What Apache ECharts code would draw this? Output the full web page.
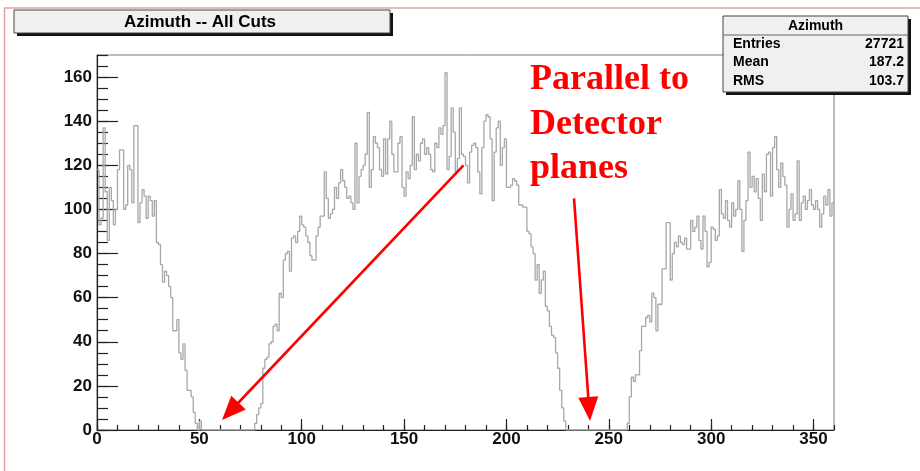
<!DOCTYPE html>
<html>
<head>
<meta charset="utf-8">
<script src="https://cdn.jsdelivr.net/npm/echarts@6/dist/echarts.min.js"></script>
<style>
  html, body { margin: 0; padding: 0; background: #ffffff; }
  #chart { width: 920px; height: 471px; }
</style>
</head>
<body>
<div id="chart"></div>
<script>
// Histogram: azimuth angle (degrees), 1-degree bins from 0 to 360
const histTitle = 'Azimuth -- All Cuts';
const binStart = 0;
const binWidth = 1;

// bin contents, 0..49
const countsFirstLobe = [
  118, 93, 96, 137, 108, 86, 110, 104, 93, 100,
  118, 127, 127, 100, 102, 120, 118, 103, 138, 138,
  94, 103, 109, 106, 96, 106, 104, 97, 104, 85,
  84, 75, 67, 72, 70, 65, 60, 45, 45, 50,
  35, 32, 39, 27, 18, 18, 15, 8, 3, 0
];
// 50..76
const countsFirstGap = [
  4, 0, 0, 0, 0, 0, 0, 0, 0, 0,
  0, 0, 0, 0, 0, 0, 0, 0, 0, 0,
  0, 0, 0, 0, 0, 0, 0
];
// 77..135
const countsRise = [
  3, 7, 10, 12, 28, 32, 33, 39, 40, 47,
  48, 45, 62, 60, 77, 80, 81, 72, 87, 88,
  85, 90, 97, 93, 92, 88, 85, 79, 77, 77,
  88, 92, 97, 97, 117, 105, 96, 98, 100, 110,
  105, 112, 118, 113, 110, 105, 106, 103, 100, 130,
  103, 115, 118, 120, 125, 144, 110, 118, 133
];
// 136..196
const countsPlateau = [
  130, 128, 118, 115, 132, 116, 132, 140, 125, 117,
  117, 130, 133, 110, 106, 117, 114, 120, 142, 118,
  125, 122, 130, 132, 125, 128, 125, 118, 117, 130,
  128, 137, 134, 138, 162, 118, 124, 146, 135, 117,
  123, 146, 125, 124, 120, 112, 126, 129, 130, 128,
  117, 107, 128, 140, 143, 142, 132, 104, 126, 137, 140
];
// 197..229
const countsFall = [
  120, 128, 132, 110, 110, 111, 114, 113, 111, 102,
  102, 101, 101, 90, 89, 83, 80, 68, 75, 62,
  68, 72, 56, 54, 47, 43, 42, 35, 28, 18,
  10, 4, 0
];
// 230..257
const countsSecondGap = [
  0, 0, 0, 0, 0, 0, 0, 0, 0, 0,
  0, 0, 0, 0, 0, 0, 0, 0, 0, 0,
  0, 0, 0, 0, 0, 0, 0, 0
];
// 258..359
const countsLastLobe = [
  0, 3, 15, 24, 22, 25, 25, 36, 47, 47,
  51, 52, 49, 62, 60, 45, 57, 57, 73, 73,
  94, 94, 68, 80, 85, 83, 88, 85, 84, 87,
  82, 82, 95, 90, 92, 97, 86, 82, 97, 90,
  74, 76, 92, 91, 86, 88, 109, 98, 96, 104,
  95, 92, 103, 97, 100, 113, 100, 81, 95, 104,
  126, 110, 115, 108, 114, 105, 95, 116, 108, 125,
  126, 106, 128, 133, 118, 110, 121, 115, 111, 92,
  100, 107, 95, 98, 122, 95, 103, 106, 100, 104,
  109, 102, 100, 104, 100, 92, 98, 106, 102, 109,
  97, 103
];

const statsName = 'Azimuth';
const statsLabels = ['Entries', 'Mean', 'RMS'];
const statsValues = ['27721', '187.2', '103.7'];

const noteLines = ['Parallel to', 'Detector', 'planes'];
// annotation arrows in data coordinates: [start, end]
const arrowPaths = [
  [[179, 120], [65.1, 8.5]],
  [[233, 105], [240.4, 9.5]]
];

const counts = [].concat(countsFirstLobe, countsFirstGap, countsRise,
  countsPlateau, countsFall, countsSecondGap, countsLastLobe);

// step outline: each point holds the bin content until the next bin edge
const stepPoints = counts.map((v, i) => [binStart + i * binWidth, v]);
stepPoints.push([binStart + counts.length * binWidth, counts[counts.length - 1]]);

const labelFont = { fontFamily: 'Liberation Sans', fontWeight: 'bold', fontSize: 17, color: '#111' };
const axisColor = '#222';

const chart = echarts.init(document.getElementById('chart'), null, { renderer: 'canvas' });

chart.setOption({
  animation: false,
  backgroundColor: '#ffffff',
  grid: {
    left: 97, right: 86, top: 55, bottom: 41,
    show: true, borderColor: '#777', borderWidth: 1, backgroundColor: 'transparent'
  },
  xAxis: [
    {
      type: 'value', min: 0, max: 360, interval: 50,
      axisLine: { show: true, onZero: false, lineStyle: { color: axisColor, width: 1.2 } },
      axisTick: { show: true, inside: true, length: 11, lineStyle: { color: axisColor, width: 1.2 } },
      axisLabel: Object.assign({ margin: 1, showMaxLabel: false }, labelFont),
      splitLine: { show: false }
    },
    {
      type: 'value', min: 0, max: 360, interval: 10, position: 'bottom',
      axisLine: { show: false },
      axisTick: { show: true, inside: true, length: 5, lineStyle: { color: axisColor, width: 1.2 } },
      axisLabel: { show: false },
      splitLine: { show: false }
    }
  ],
  yAxis: [
    {
      type: 'value', min: 0, max: 170, interval: 20,
      axisLine: { show: true, onZero: false, lineStyle: { color: axisColor, width: 1.2 } },
      axisTick: { show: true, inside: true, length: 21, lineStyle: { color: axisColor, width: 1.2 } },
      axisLabel: Object.assign({ margin: 5, showMaxLabel: false }, labelFont),
      splitLine: { show: false }
    },
    {
      type: 'value', min: 0, max: 170, interval: 5, position: 'left',
      axisLine: { show: false },
      axisTick: { show: true, inside: true, length: 11, lineStyle: { color: axisColor, width: 1.2 } },
      axisLabel: { show: false },
      splitLine: { show: false }
    }
  ],
  series: [
    {
      name: statsName,
      type: 'line',
      xAxisIndex: 0, yAxisIndex: 0,
      data: stepPoints,
      step: 'end',
      symbol: 'none',
      lineStyle: { color: '#a8a8a8', width: 1.3 },
      z: 3,
      markLine: {
        silent: true,
        symbol: ['none', 'triangle'],
        symbolSize: [20, 24],
        label: { show: false },
        lineStyle: { color: '#ff0000', width: 2.6, type: 'solid' },
        data: arrowPaths.map(p => [{ coord: p[0] }, { coord: p[1] }])
      }
    }
  ],
  graphic: [
    // canvas border
    { type: 'rect', z: 50, shape: { x: 4.5, y: 8, width: 1000, height: 1000 },
      style: { fill: 'none', stroke: '#e6a3a3', lineWidth: 1.5 } },
    // title box
    { type: 'rect', z: 100, shape: { x: 17, y: 13, width: 376, height: 23 }, style: { fill: '#111' } },
    { type: 'rect', z: 101, shape: { x: 14, y: 10, width: 376, height: 23 },
      style: { fill: '#f0f0f0', stroke: '#444', lineWidth: 1 } },
    { type: 'text', z: 102, style: { x: 200, y: 22, text: histTitle, align: 'center', verticalAlign: 'middle',
      font: 'bold 17px "Liberation Sans"', fill: '#000' } },
    // statistics box
    { type: 'rect', z: 100, shape: { x: 726, y: 19, width: 185, height: 76 }, style: { fill: '#111' } },
    { type: 'rect', z: 101, shape: { x: 723, y: 16, width: 185, height: 76 },
      style: { fill: '#f0f0f0', stroke: '#444', lineWidth: 1 } },
    { type: 'line', z: 102, shape: { x1: 723, y1: 35, x2: 908, y2: 35 }, style: { stroke: '#666', lineWidth: 1 } },
    { type: 'text', z: 102, style: { x: 815.5, y: 26, text: statsName, align: 'center', verticalAlign: 'middle',
      font: 'bold 14px "Liberation Sans"', fill: '#000' } },
    ...statsLabels.map((t, i) => ({ type: 'text', z: 102, style: { x: 733, y: 44 + i * 18.5, text: t,
      align: 'left', verticalAlign: 'middle', font: 'bold 14px "Liberation Sans"', fill: '#000' } })),
    ...statsValues.map((t, i) => ({ type: 'text', z: 102, style: { x: 904, y: 44 + i * 18.5, text: t,
      align: 'right', verticalAlign: 'middle', font: 'bold 14px "Liberation Sans"', fill: '#000' } })),
    // red annotation text
    ...noteLines.map((t, i) => ({ type: 'text', z: 110, style: { x: 530, y: 80 + i * 44.5, text: t,
      align: 'left', verticalAlign: 'middle', font: 'bold 36px "Liberation Serif"', fill: '#ff0000' } }))
  ]
});
</script>
</body>
</html>
